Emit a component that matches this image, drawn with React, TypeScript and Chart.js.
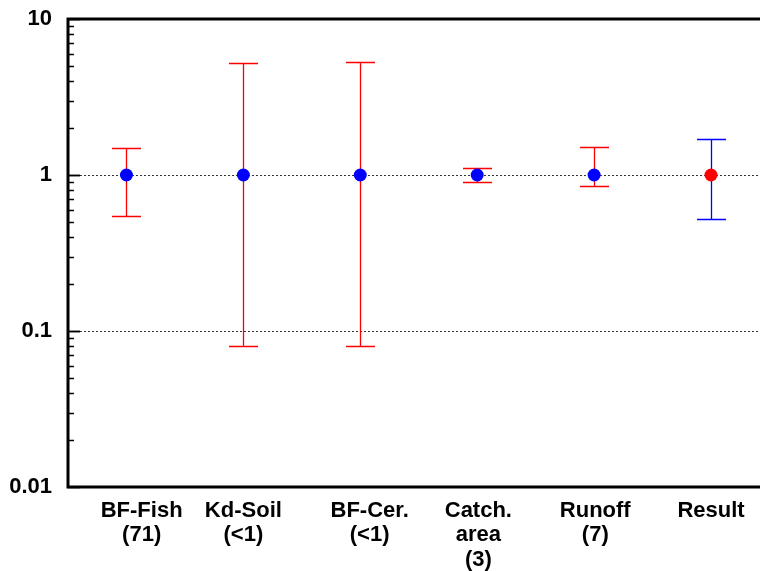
import React, { useEffect, useRef } from "react";
import { Chart, registerables } from "chart.js";

Chart.register(...registerables);

const categories: string[][] = [
  ["BF-Fish", "(71)"],
  ["Kd-Soil", "(<1)"],
  ["BF-Cer.", "(<1)"],
  ["Catch.", "area", "(3)"],
  ["Runoff", "(7)"],
  ["Result"],
];
// x positions (in category units) where each label is centred in the original
const labelPositions = [1.13, 2.0, 3.08, 4.01, 5.01, 6.0];
const centers = [1, 1, 1, 1, 1, 1];
const upper = [1.5, 5.2, 5.3, 1.11, 1.51, 1.7];
const lower = [0.55, 0.08, 0.08, 0.9, 0.85, 0.52];
const pointColors = ["#0000ff", "#0000ff", "#0000ff", "#0000ff", "#0000ff", "#ff0000"];
const barColors = ["#ff0000", "#ff0000", "#ff0000", "#ff0000", "#ff0000", "#0000ff"];
const yMajorTicks = [0.01, 0.1, 1, 10];
const yGridValues = [0.1, 1];

const decorPlugin = {
  id: "decor",
  beforeDatasetsDraw(chart: any) {
    const { ctx, chartArea, scales } = chart;
    const xs = scales.x;
    const ys = scales.y;
    ctx.save();
    // dotted grid lines
    ctx.strokeStyle = "#333";
    ctx.lineWidth = 1;
    ctx.setLineDash([2, 2]);
    yGridValues.forEach((v) => {
      const py = Math.round(ys.getPixelForValue(v)) + 0.5;
      ctx.beginPath();
      ctx.moveTo(chartArea.left, py);
      ctx.lineTo(chartArea.right, py);
      ctx.stroke();
    });
    ctx.setLineDash([]);
    // inward ticks
    ctx.strokeStyle = "#000";
    ctx.lineWidth = 1.5;
    for (let d = -2; d < 1; d++) {
      for (let m = 1; m <= 10; m++) {
        const v = m * Math.pow(10, d);
        const py = Math.round(ys.getPixelForValue(v)) + 0.5;
        const len = m === 1 || m === 10 ? 12 : 6;
        ctx.beginPath();
        ctx.moveTo(chartArea.left, py);
        ctx.lineTo(chartArea.left + len, py);
        ctx.stroke();
      }
    }
    // error bars
    const cap = 14.5;
    centers.forEach((_, i) => {
      const px = Math.round(xs.getPixelForValue(i + 1)) + 0.5;
      const pHi = Math.round(ys.getPixelForValue(upper[i])) + 0.5;
      const pLo = Math.round(ys.getPixelForValue(lower[i])) + 0.5;
      ctx.strokeStyle = barColors[i];
      ctx.lineWidth = 1.3;
      ctx.beginPath();
      ctx.moveTo(px, pHi);
      ctx.lineTo(px, pLo);
      ctx.moveTo(px - cap, pHi);
      ctx.lineTo(px + cap, pHi);
      ctx.moveTo(px - cap, pLo);
      ctx.lineTo(px + cap, pLo);
      ctx.stroke();
    });
    // axis borders
    ctx.strokeStyle = "#000";
    ctx.lineWidth = 3;
    ctx.beginPath();
    ctx.moveTo(chartArea.right, chartArea.top);
    ctx.lineTo(chartArea.left, chartArea.top);
    ctx.lineTo(chartArea.left, chartArea.bottom);
    ctx.lineTo(chartArea.right, chartArea.bottom);
    ctx.stroke();
    ctx.restore();
  },
};

export default function App() {
  const ref = useRef<HTMLCanvasElement>(null);
  useEffect(() => {
    if (!ref.current) return;
    const chart = new Chart(ref.current, {
      type: "scatter",
      data: {
        datasets: [
          {
            data: centers.map((v, i) => ({ x: i + 1, y: v })),
            pointRadius: 6.5,
            pointHoverRadius: 6.5,
            pointBackgroundColor: pointColors,
            pointBorderColor: pointColors,
            pointBorderWidth: 0,
          },
        ],
      },
      options: {
        animation: false,
        responsive: true,
        maintainAspectRatio: false,
        layout: { padding: { top: 19, left: 0, right: 0, bottom: 0 } },
        plugins: { legend: { display: false }, tooltip: { enabled: false } },
        scales: {
          x: {
            type: "linear",
            min: 0.5,
            max: 6.62,
            grid: { display: false, drawTicks: false },
            border: { display: false },
            afterBuildTicks: (s: any) => {
              s.ticks = labelPositions.map((p) => ({ value: p }));
            },
            afterFit: (s: any) => {
              s.height = 84;
              s.paddingLeft = 0;
              s.paddingRight = 0;
            },
            ticks: {
              autoSkip: false,
              maxRotation: 0,
              padding: 12,
              color: "#000",
              font: { family: "'Liberation Sans', Arial, sans-serif", size: 22, weight: "bold", lineHeight: 1.1 },
              callback: (v: any) => {
                const idx = labelPositions.findIndex((p) => Math.abs(p - Number(v)) < 1e-6);
                return idx >= 0 ? categories[idx] : "";
              },
            },
          },
          y: {
            type: "logarithmic",
            min: 0.01,
            max: 10,
            grid: { display: false, drawTicks: false },
            border: { display: false },
            afterBuildTicks: (s: any) => {
              s.ticks = yMajorTicks.map((v) => ({ value: v, major: true }));
            },
            afterFit: (s: any) => {
              s.width = 68;
              s.paddingTop = 0;
              s.paddingBottom = 0;
            },
            ticks: {
              padding: 16,
              color: "#000",
              font: { family: "'Liberation Sans', Arial, sans-serif", size: 22, weight: "bold" },
              callback: (v: any) => String(Number(v)),
            },
          },
        },
      },
      plugins: [decorPlugin],
    } as any);
    return () => chart.destroy();
  }, []);
  return (
    <div style={{ position: "fixed", left: 0, top: 0, width: 760, height: 571, overflow: "hidden" }}>
      <div style={{ position: "absolute", left: 0, top: 0, width: 790, height: 571 }}>
        <canvas ref={ref} />
      </div>
    </div>
  );
}
